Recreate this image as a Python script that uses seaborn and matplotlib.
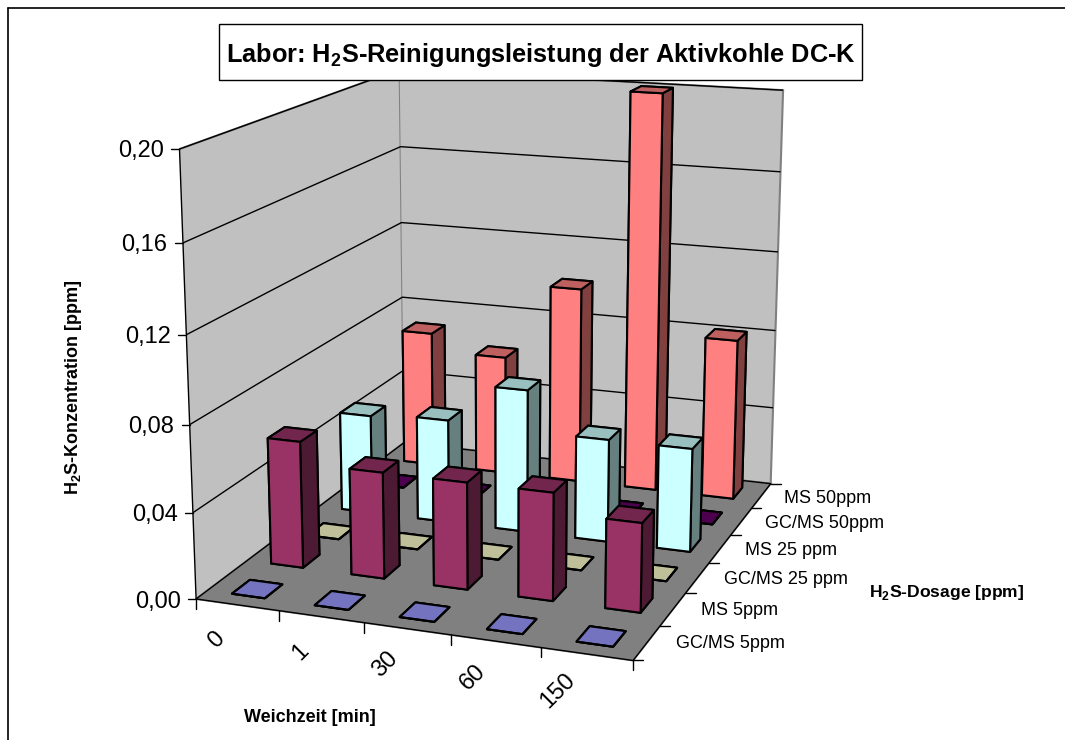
import numpy as np
import pandas as pd
import matplotlib
matplotlib.use('Agg')
import matplotlib.pyplot as plt
import seaborn as sns
from matplotlib.lines import Line2D
from matplotlib.patches import Rectangle
from matplotlib.transforms import IdentityTransform
from mpl_toolkits.mplot3d import proj3d

soak_times = ['0', '1', '30', '60', '150']
series_names = ['GC/MS 5ppm', 'MS 5ppm', 'GC/MS 25 ppm', 'MS 25 ppm', 'GC/MS 50ppm', 'MS 50ppm']
gcms_5 = [0.0, 0.0, 0.0, 0.0, 0.0]
ms_5 = [0.060, 0.050, 0.050, 0.050, 0.041]
gcms_25 = [0.0, 0.0, 0.0, 0.0, 0.0]
ms_25 = [0.049, 0.051, 0.070, 0.050, 0.050]
gcms_50 = [0.0, 0.0, 0.0, 0.0, 0.0]
ms_50 = [0.070, 0.061, 0.100, 0.200, 0.081]
z_ticks = [0.0, 0.04, 0.08, 0.12, 0.16, 0.20]
z_labels = ['0,00', '0,04', '0,08', '0,12', '0,16', '0,20']
front_colors = ['#9999FF', '#993366', '#FFFFCC', '#CCFFFF', '#660066', '#FF8080']

values = pd.DataFrame([gcms_5, ms_5, gcms_25, ms_25, gcms_50, ms_50], index=series_names, columns=soak_times)

sns.set_theme(style='white')
plt.rcParams['font.family'] = ['Liberation Sans', 'DejaVu Sans']
plt.rcParams['mathtext.fontset'] = 'custom'
plt.rcParams['mathtext.rm'] = 'Liberation Sans:bold'
plt.rcParams['mathtext.bf'] = 'Liberation Sans:bold'
plt.rcParams['text.color'] = 'black'

W, H = 1065, 740
fig = plt.figure(figsize=(W / 100, H / 100), dpi=100, facecolor='white')
side = 826.1
ax = fig.add_axes([79.34 / W, -16.7 / H, side / W, side / H], projection='3d', computed_zorder=False)
ax.patch.set_alpha(0)
nx, ny = len(soak_times), len(series_names)
ax.set_xlim(-0.5, nx - 0.5, view_margin=0)
ax.set_ylim(-0.5, ny - 0.5, view_margin=0)
ax.set_zlim(0, 0.2, view_margin=0)
ax.view_init(elev=14.935, azim=-70.07)
ax.set_proj_type('persp', focal_length=0.5139)
ax.set_box_aspect((0.981, 1.1769, 0.9812), zoom=0.9462)

ax.xaxis.set_pane_color('#C0C0C0')
ax.yaxis.set_pane_color('#C0C0C0')
ax.zaxis.set_pane_color('#808080')
for a in (ax.xaxis, ax.yaxis, ax.zaxis):
    a.pane.set_edgecolor('#808080')
    a.pane.set_linewidth(1.5)
    a.line.set_color('black')
    a.line.set_linewidth(1.0)
    a._axinfo['tick']['inward_factor'] = 0
    a._axinfo['tick']['outward_factor'] = 0
    a._axinfo['grid']['linewidth'] = 0
    a._axinfo['grid']['color'] = (0, 0, 0, 0)
ax.zaxis._axinfo['grid']['linewidth'] = 1.0
ax.zaxis._axinfo['grid']['color'] = 'black'
ax.grid(True)

label_shift_x = np.array([-0.08, -0.09, -0.113, -0.124, -0.19])
label_shift_y = 0.5
ax.set_xticks(np.arange(nx) + label_shift_x)
ax.set_xticklabels(soak_times, rotation=45, fontsize=17, ha='center', va='center', color='black')
ax.set_yticks(np.arange(ny) + label_shift_y)
ax.set_yticklabels(series_names, fontsize=13, ha='left', va='center', color='black')
ax.set_zticks(z_ticks)
ax.set_zticklabels(z_labels, fontsize=17, ha='right', va='center', color='black')
ax.zaxis.set_ticks_position('lower')
ax.tick_params(axis='x', pad=10)
ax.tick_params(axis='y', pad=3)
ax.tick_params(axis='z', pad=-1)

def shade(c, k):
    r = np.array(matplotlib.colors.to_rgb(c)) * k
    return tuple(r)

bw, bd = 0.4, 0.45
order = 10
for iy in range(ny - 1, -1, -1):
    for ix in range(nx):
        h = values.iloc[iy, ix]
        c = front_colors[iy]
        faces = [shade(c, .75), shade(c, .75), c, c, shade(c, .5), shade(c, .5)]
        ax.bar3d(ix - bw / 2, iy - bd / 2, 0, bw, bd, h, color=faces, shade=False,
                 edgecolor='black', linewidth=1.5, zorder=order)
        order += 1

fig.canvas.draw()

def px(x, y, z):
    xs, ys, _ = proj3d.proj_transform(x, y, z, ax.get_proj())
    return ax.transData.transform((xs, ys))

def tick(x, y, z, dx, dy):
    p = px(x, y, z)
    fig.add_artist(Line2D([p[0], p[0] + dx], [p[1], p[1] + dy], color='black', lw=1.0,
                          transform=IdentityTransform()))

for b in np.arange(-0.5, nx):
    tick(b, -0.5, 0, 0, -10)
for b in np.arange(-0.5, ny):
    tick(nx - 0.5, b, 0, 10, 0)
for z in z_ticks:
    tick(-0.5, -0.5, z, -8, 0)

def fx(v):
    return v / W
def fy(v):
    return 1 - v / H

fig.add_artist(Line2D([fx(8), fx(8)], [fy(8), 0], color='black', lw=1.2))
fig.add_artist(Line2D([fx(8), 1], [fy(8), fy(8)], color='black', lw=1.2))
fig.add_artist(Rectangle((fx(219), fy(79.5)), 643 / W, 56 / H, transform=fig.transFigure,
                         facecolor='white', edgecolor='black', lw=1.0, zorder=5))
fig.text(fx(541), fy(62), r'Labor: H$_{2}$S-Reinigungsleistung der Aktivkohle DC-K', fontsize=18.3,
         fontweight='bold', color='black', ha='center', va='baseline', zorder=6)
fig.text(fx(74), fy(387), r'H$_{2}$S-Konzentration [ppm]', rotation=90, fontsize=13, fontweight='bold',
         color='black', ha='center', va='center')
fig.text(fx(310), fy(717), 'Weichzeit [min]', fontsize=13, fontweight='bold', color='black', ha='center', va='center')
fig.text(fx(947), fy(592), r'H$_{2}$S-Dosage [ppm]', fontsize=12.6, fontweight='bold', color='black', ha='center', va='center')

fig.savefig('out.png', dpi=100)
